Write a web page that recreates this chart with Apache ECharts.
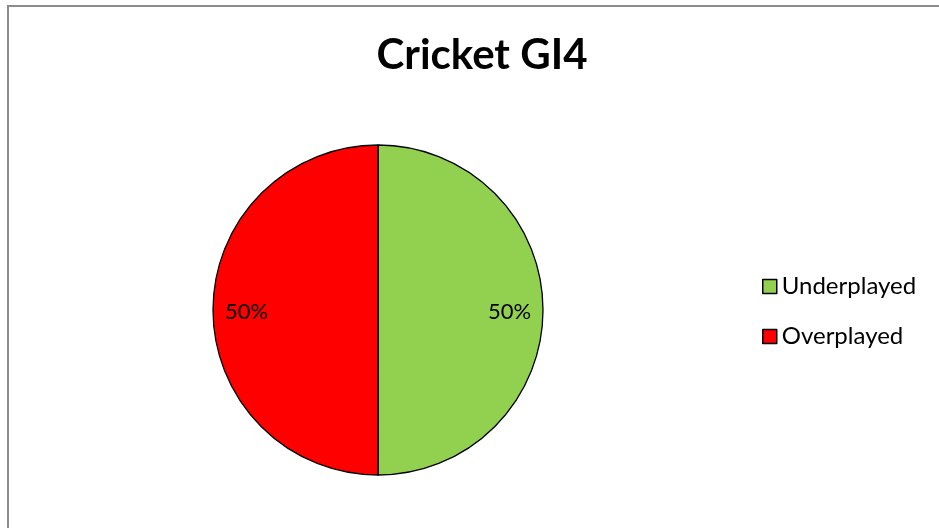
<!DOCTYPE html>
<html>
<head>
<meta charset="utf-8">
<script src="https://cdn.jsdelivr.net/npm/echarts@6/dist/echarts.min.js"></script>
<style>html,body{margin:0;padding:0;background:#fff;}#c{width:939px;height:528px;}</style>
</head>
<body>
<div id="c"></div>
<script>
const title = 'Cricket GI4';
const categories = ['Underplayed', 'Overplayed'];
const values = [50, 50];
const colors = ['#92D050', '#FF0000'];

const data = categories.map((n, i) => ({ name: n, value: values[i], itemStyle: { color: colors[i] } }));
const chart = echarts.init(document.getElementById('c'));
chart.setOption({
  animation: false,
  graphic: [{
    type: 'rect', shape: { x: 8, y: 6, width: 960, height: 560 },
    style: { fill: 'none', stroke: '#8c8c8c', lineWidth: 2 }, z: -1
  }],
  title: {
    text: title, left: 477, textAlign: 'center', top: 29,
    textStyle: { fontFamily: 'Lato', fontWeight: 'bold', fontSize: 42, color: '#000' }
  },
  legend: {
    orient: 'vertical', left: 757, top: 269, itemWidth: 14, itemHeight: 14, itemGap: 25,
    icon: 'rect',
    itemStyle: { borderColor: '#000', borderWidth: 1.5 },
    textStyle: { fontFamily: 'Lato', fontSize: 24, lineHeight: 25, color: '#000' },
    data: categories
  },
  series: [{
    type: 'pie', center: [378, 310], radius: [0, 165], startAngle: 90, clockwise: true,
    label: { show: false }, labelLine: { show: false },
    itemStyle: { borderColor: '#000', borderWidth: 1.3 },
    emphasis: { disabled: true },
    data: data
  }, {
    type: 'pie', center: [378, 312], radius: [92, 165], startAngle: 90, clockwise: true, silent: true,
    legendHoverLink: false,
    itemStyle: { color: 'rgba(0,0,0,0)', borderWidth: 0 },
    label: { show: true, position: 'inside', formatter: '{d}%', fontFamily: 'Lato', fontSize: 22, color: '#000' },
    labelLine: { show: false },
    emphasis: { disabled: true },
    data: categories.map((n, i) => ({ name: n + ' ', value: values[i] }))
  }]
});
</script>
</body>
</html>
